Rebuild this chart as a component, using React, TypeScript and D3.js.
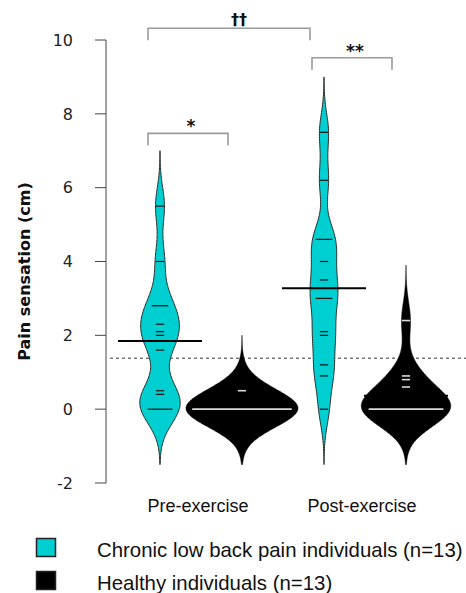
import { useMemo } from "react";
import * as d3 from "d3";

// Beanplot: pain sensation before / after exercise, CLBP vs healthy
const beanKeys = ["pre-clbp", "pre-healthy", "post-clbp", "post-healthy"];
const beanGroups = ["clbp", "healthy", "clbp", "healthy"];
const preClbp = [5.5, 4.0, 2.8, 2.8, 2.3, 2.1, 2.0, 1.6, 0.5, 0.4, 0, 0, 0];
const preHealthy = [0.5, 0, 0, 0, 0, 0, 0, 0, 0, 0, 0, 0, 0];
const postClbp = [7.5, 6.2, 4.6, 4.6, 4.0, 3.5, 3.0, 3.0, 2.1, 2.0, 1.2, 0.9, 0];
const postHealthy = [2.4, 0.9, 0.8, 0.6, 0, 0, 0, 0, 0, 0, 0, 0, 0];
const beanValues = [preClbp, preHealthy, postClbp, postHealthy];

const conditionLabels = ["Pre-exercise", "Post-exercise"];
const yTicks = [-2, 0, 2, 4, 6, 8, 10];

const bracketFrom = [0, 0, 2];
const bracketTo = [1, 2, 3];
const bracketLevel = [7.47, 10.32, 9.52];
const bracketLabels = ["*", "††", "**"];

const legendLabels = ["Chronic low back pain individuals (n=13)", "Healthy individuals (n=13)"];
const legendGroups = ["clbp", "healthy"];

const BW = 0.5;
const W = 466;
const H = 593;
const CYAN = "#00cfd1";

function kde(values: number[], bw: number) {
  const lo = d3.min(values)! - 3 * bw;
  const hi = d3.max(values)! + 3 * bw;
  const n = 240;
  return d3.range(n + 1).map((i) => {
    const v = lo + ((hi - lo) * i) / n;
    const d =
      d3.mean(values, (x) => Math.exp(-0.5 * ((v - x) / bw) ** 2))! /
      (bw * Math.sqrt(2 * Math.PI));
    return { v, d };
  });
}

export default function App() {
  const x = d3.scalePoint<string>().domain(beanKeys).range([160, 406]);
  const y = d3.scaleLinear().domain([-2, 10]).range([483, 40]);

  const dens = useMemo(() => beanValues.map((vals) => kde(vals, BW)), []);
  const maxD = d3.max(dens.flat(), (p) => p.d)!;
  const w = d3.scaleLinear().domain([0, maxD]).range([0, 56]);

  const grand = d3.mean(beanValues.flat())!;
  const unitLine = 8.3;
  const meanHalf = 42;

  return (
    <>
      <style>{"body{margin:0}"}</style>
      <svg width={W} height={H} style={{ display: "block" }}>
        {/* overall mean, dashed, behind beans */}
        <line
          x1={110}
          x2={W}
          y1={y(grand)}
          y2={y(grand)}
          stroke="#333"
          strokeWidth={1}
          strokeDasharray="3,3"
        />

        {/* y axis */}
        <g fontFamily="DejaVu Sans, Verdana, sans-serif" fontSize={16} fill="#222">
          <line x1={106} x2={106} y1={y(10)} y2={y(-2)} stroke="#444" />
          {yTicks.map((t) => (
            <g key={t}>
              <line x1={95} x2={106} y1={y(t)} y2={y(t)} stroke="#444" />
              <text x={73} y={y(t)} dy="0.36em" textAnchor="end">
                {t}
              </text>
            </g>
          ))}
          <text
            transform={`translate(30,${(y(10) + y(-2)) / 2 + 10}) rotate(-90)`}
            textAnchor="middle"
            fontWeight="bold"
            fill="#111"
          >
            Pain sensation (cm)
          </text>
        </g>

        {/* beans */}
        {beanKeys.map((k, i) => {
          const cx = x(k)!;
          const healthy = beanGroups[i] === "healthy";
          const area = d3
            .area<{ v: number; d: number }>()
            .y((p) => y(p.v))
            .x0((p) => cx - w(p.d))
            .x1((p) => cx + w(p.d))
            .curve(d3.curveBasis)(dens[i]) ?? "";
          const counts = d3.rollups(beanValues[i], (v) => v.length, (v) => v);
          const m = d3.mean(beanValues[i])!;
          return (
            <g key={k}>
              <path
                d={area}
                fill={healthy ? "#000" : CYAN}
                stroke={healthy ? "#000" : "#2a2a2a"}
                strokeWidth={healthy ? 0.5 : 1}
              />
              <line
                x1={cx - meanHalf}
                x2={cx + meanHalf}
                y1={y(m)}
                y2={y(m)}
                stroke="#000"
                strokeWidth={2}
              />
              {counts.map(([v, c]) => (
                <line
                  key={v}
                  x1={cx - (c * unitLine) / 2}
                  x2={cx + (c * unitLine) / 2}
                  y1={y(v)}
                  y2={y(v)}
                  stroke={healthy ? "#d8d8d8" : "#111"}
                  strokeWidth={healthy ? 1.6 : 1.2}
                />
              ))}
            </g>
          );
        })}

        {/* significance brackets */}
        <g fontFamily="DejaVu Sans, Verdana, sans-serif" fill="#111">
          {bracketLabels.map((lab, i) => {
            const xa = x(beanKeys[bracketFrom[i]])! - 12;
            const xb = x(beanKeys[bracketTo[i]])! - 14;
            const yy = y(bracketLevel[i]);
            const dagger = lab.includes("†");
            return (
              <g key={i}>
                <path
                  d={`M${xa},${yy + 12}V${yy}H${xb}V${yy + 12}`}
                  fill="none"
                  stroke="#9a9a9a"
                  strokeWidth={1.6}
                />
                <text
                  x={(xa + xb) / 2 + (dagger ? 10 : 3)}
                  y={yy - (dagger ? 3 : 1)}
                  textAnchor="middle"
                  fontSize={dagger ? 16 : 17}
                  fontWeight="bold"
                >
                  {lab}
                </text>
              </g>
            );
          })}
        </g>

        {/* x labels */}
        <g fontFamily="Liberation Sans, Arial, sans-serif" fontSize={18} fill="#111">
          {conditionLabels.map((lab, i) => (
            <text
              key={lab}
              x={(x(beanKeys[i * 2])! + x(beanKeys[i * 2 + 1])!) / 2 - 3}
              y={511.5}
              textAnchor="middle"
            >
              {lab}
            </text>
          ))}
        </g>

        {/* legend */}
        <g fontFamily="Liberation Sans, Arial, sans-serif" fontSize={20.4} fill="#111">
          {legendLabels.map((lab, i) => (
            <g key={lab} transform={`translate(0,${i * 33})`}>
              <rect
                x={36.5}
                y={538.5}
                width={19}
                height={18}
                fill={legendGroups[i] === "healthy" ? "#000" : CYAN}
                stroke="#222"
                strokeWidth={1.5}
              />
              <text x={97} y={557}>
                {lab}
              </text>
            </g>
          ))}
        </g>
      </svg>
    </>
  );
}
